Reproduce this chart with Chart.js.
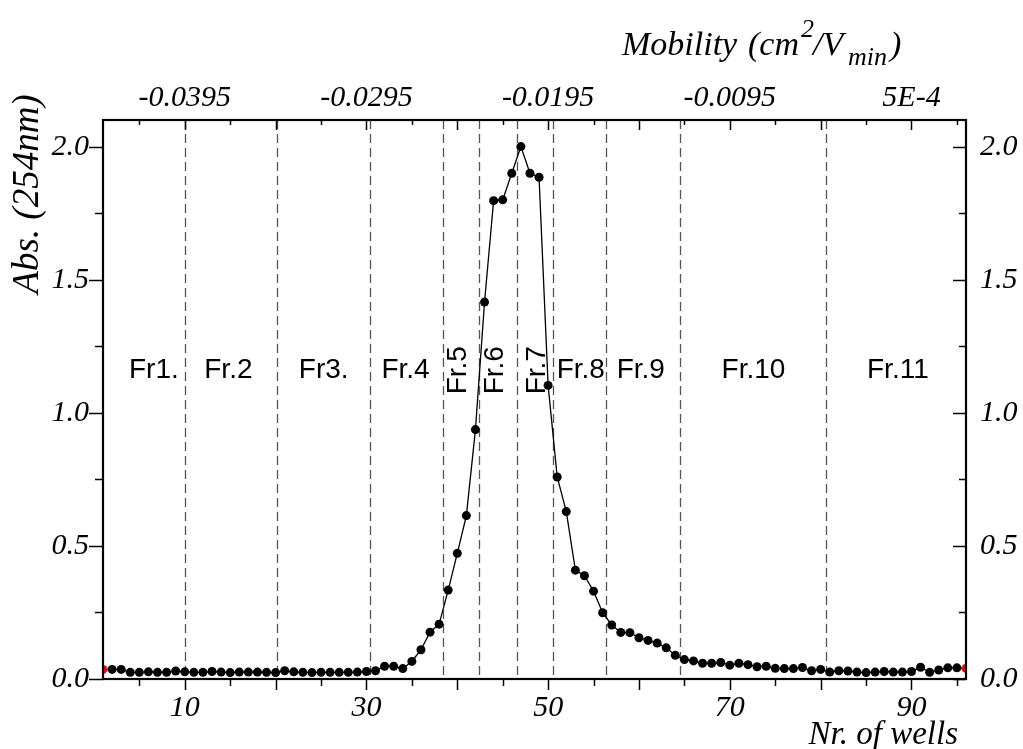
<!DOCTYPE html>
<html>
<head>
<meta charset="utf-8">
<script src="https://cdn.jsdelivr.net/npm/chart.js@4.4.1/dist/chart.umd.min.js"></script>
<style>
  html, body { margin: 0; padding: 0; background: #fff; }
  canvas { display: block; }
</style>
</head>
<body>
<canvas id="c" width="1023" height="749"></canvas>
<script>
// ---------------- DATA ----------------
const wells = [1,2,3,4,5,6,7,8,9,10,11,12,13,14,15,16,17,18,19,20,21,22,23,24,25,26,27,28,29,30,
  31,32,33,34,35,36,37,38,39,40,41,42,43,44,45,46,47,48,49,50,51,52,53,54,55,56,57,58,59,60,
  61,62,63,64,65,66,67,68,69,70,71,72,73,74,75,76,77,78,79,80,81,82,83,84,85,86,87,88,89,90,
  91,92,93,94,95,96];
const absorbance = [0.036,0.036,0.036,0.025,0.025,0.027,0.025,0.025,0.030,0.027,
  0.025,0.025,0.028,0.026,0.024,0.026,0.026,0.026,0.025,0.024,
  0.031,0.027,0.025,0.024,0.025,0.025,0.025,0.025,0.026,0.028,
  0.031,0.048,0.048,0.039,0.066,0.110,0.176,0.206,0.334,0.472,
  0.614,0.937,1.416,1.797,1.800,1.900,2.000,1.900,1.885,1.103,
  0.759,0.629,0.409,0.388,0.330,0.249,0.203,0.175,0.174,0.155,
  0.145,0.135,0.117,0.089,0.073,0.068,0.059,0.059,0.062,0.052,
  0.059,0.054,0.046,0.048,0.040,0.039,0.039,0.043,0.031,0.036,
  0.026,0.031,0.030,0.026,0.024,0.026,0.028,0.026,0.026,0.028,
  0.044,0.025,0.034,0.042,0.042,0.040];
const fractionBounds = [10, 20.2, 30.4, 38.4, 42.4, 46.6, 50.5, 56.4, 64.5, 80.6];
const fractionNames = ['Fr1.','Fr.2','Fr3.','Fr.4','Fr.5','Fr.6','Fr.7','Fr.8','Fr.9','Fr.10','Fr.11'];
const fractionCenters = [6.6, 14.8, 25.3, 34.3, 40.1, 44.2, 48.8, 53.6, 60.2, 72.6, 88.5];
const fractionVertical = [false,false,false,false,true,true,true,false,false,false,false];
const fractionLabelY = 1.16;
const wellTicks = [10, 30, 50, 70, 90];
const mobilityTickLabels = ['-0.0395','-0.0295','-0.0195','-0.0095','5E-4'];
const absTicks = [0, 0.5, 1.0, 1.5, 2.0];

// ---------------- STYLE ----------------
const SERIF = 'Liberation Serif';
const SANS = 'Liberation Sans';
const tickFont = { family: SERIF, style: 'italic', size: 30 };

const decorPlugin = {
  id: 'decor',
  beforeDatasetsDraw(chart) {
    const ctx = chart.ctx;
    const xs = chart.scales.x, ys = chart.scales.y;
    const { top, bottom } = chart.chartArea;
    ctx.save();
    // dashed fraction boundaries
    ctx.strokeStyle = '#555';
    ctx.lineWidth = 1.3;
    ctx.setLineDash([9, 5]);
    fractionBounds.forEach(b => {
      const px = Math.round(xs.getPixelForValue(b)) + 0.5;
      ctx.beginPath(); ctx.moveTo(px, top); ctx.lineTo(px, bottom); ctx.stroke();
    });
    ctx.setLineDash([]);
    // fraction labels
    ctx.fillStyle = '#000';
    ctx.font = '28px ' + SANS;
    const cy = ys.getPixelForValue(fractionLabelY);
    fractionNames.forEach((name, i) => {
      const px = xs.getPixelForValue(fractionCenters[i]);
      ctx.textAlign = 'center';
      ctx.textBaseline = 'middle';
      if (fractionVertical[i]) {
        ctx.save();
        ctx.translate(px, cy);
        ctx.rotate(-Math.PI / 2);
        ctx.fillText(name, 0, 0);
        ctx.restore();
      } else {
        ctx.fillText(name, px, cy);
      }
    });
    ctx.restore();
  },
  afterDraw(chart) {
    const ctx = chart.ctx;
    const xs = chart.scales.x, ys = chart.scales.y;
    const { left, right, top, bottom } = chart.chartArea;
    ctx.save();
    ctx.strokeStyle = '#000';
    ctx.lineWidth = 1.5;
    const seg = (x1, y1, x2, y2) => { ctx.beginPath(); ctx.moveTo(x1, y1); ctx.lineTo(x2, y2); ctx.stroke(); };
    for (let w = 5; w <= 95; w += 5) {
      const px = Math.round(xs.getPixelForValue(w)) + 0.5;
      const major = w % 10 === 0;
      seg(px, bottom, px, bottom + (major ? 11 : 7));
      seg(px, top, px, top + (major ? 10 : 5));
    }
    for (let k = 0; k <= 8; k++) {
      const v = k * 0.25;
      const py = Math.round(ys.getPixelForValue(v)) + 0.5;
      const major = k % 2 === 0;
      seg(left - (major ? 14 : 8), py, left, py);
      seg(right - (major ? 13 : 7), py, right, py);
    }
    // frame
    ctx.lineWidth = 2.2;
    ctx.strokeRect(left, top, right - left, bottom - top);

    // axis titles
    ctx.fillStyle = '#000';
    // left title
    ctx.save();
    ctx.font = 'italic 37px ' + SERIF;
    ctx.translate(38, 194);
    ctx.rotate(-Math.PI / 2);
    ctx.textAlign = 'center';
    ctx.textBaseline = 'alphabetic';
    ctx.fillText('Abs. (254nm)', 0, 0);
    ctx.restore();
    // bottom title
    ctx.font = 'italic 33px ' + SERIF;
    ctx.textAlign = 'right';
    ctx.textBaseline = 'alphabetic';
    ctx.fillText('Nr. of wells', 958, 744);
    // top title with super/subscript
    const big = 'italic 34px ' + SERIF, small = 'italic 26px ' + SERIF;
    const parts = [
      { t: 'Mobility', f: big, x: 622, dy: 0 },
      { t: '(cm', f: big, x: 748, dy: 0 },
      { t: '2', f: small, x: 801, dy: -18 },
      { t: '/V', f: big, x: 813, dy: 0 },
      { t: 'min', f: small, x: 848, dy: 10 },
      { t: ')', f: big, x: 890, dy: 0 }
    ];
    const base = 55;
    ctx.textAlign = 'left';
    parts.forEach(p => {
      ctx.font = p.f;
      ctx.fillText(p.t, p.x, base + p.dy);
    });
    ctx.restore();
  }
};

const commonX = (pos, height, labels) => ({
  type: 'linear', position: pos, min: wells[0], max: wells[wells.length - 1],
  afterBuildTicks: s => { s.ticks = wellTicks.map(v => ({ value: v })); },
  afterFit: s => { s.height = height; },
  grid: { display: false, drawTicks: false },
  border: { display: false },
  ticks: {
    autoSkip: false, maxRotation: 0, minRotation: 0, color: '#000', font: tickFont,
    padding: pos === 'bottom' ? 11 : 4,
    callback: v => labels ? labels[wellTicks.indexOf(v)] : String(v)
  }
});
const commonY = (pos, width, pad) => ({
  type: 'linear', position: pos, min: 0, max: 2.1,
  afterBuildTicks: s => { s.ticks = absTicks.map(v => ({ value: v })); },
  afterFit: s => { s.width = width; },
  grid: { display: false, drawTicks: false },
  border: { display: false },
  ticks: { color: '#000', font: tickFont, padding: pad, callback: v => Number(v).toFixed(1) }
});

new Chart(document.getElementById('c'), {
  type: 'line',
  data: {
    datasets: [{
      data: wells.map((w, i) => ({ x: w, y: absorbance[i] })),
      xAxisID: 'x', yAxisID: 'y',
      borderColor: '#000', borderWidth: 1.3, tension: 0,
      pointRadius: 4.5, pointBorderWidth: 0,
      pointBackgroundColor: c => (c.dataIndex === 0 || c.dataIndex === wells.length - 1) ? '#ff0000' : '#000',
      clip: 0
    }]
  },
  options: {
    responsive: false, animation: false, devicePixelRatio: 1,
    layout: { padding: 0 },
    plugins: { legend: { display: false }, tooltip: { enabled: false }, title: { display: false } },
    scales: {
      x: commonX('bottom', 70, null),
      x2: commonX('top', 120, mobilityTickLabels),
      y: commonY('left', 103, 14),
      y2: commonY('right', 57, 14)
    }
  },
  plugins: [decorPlugin]
});
</script>
</body>
</html>
